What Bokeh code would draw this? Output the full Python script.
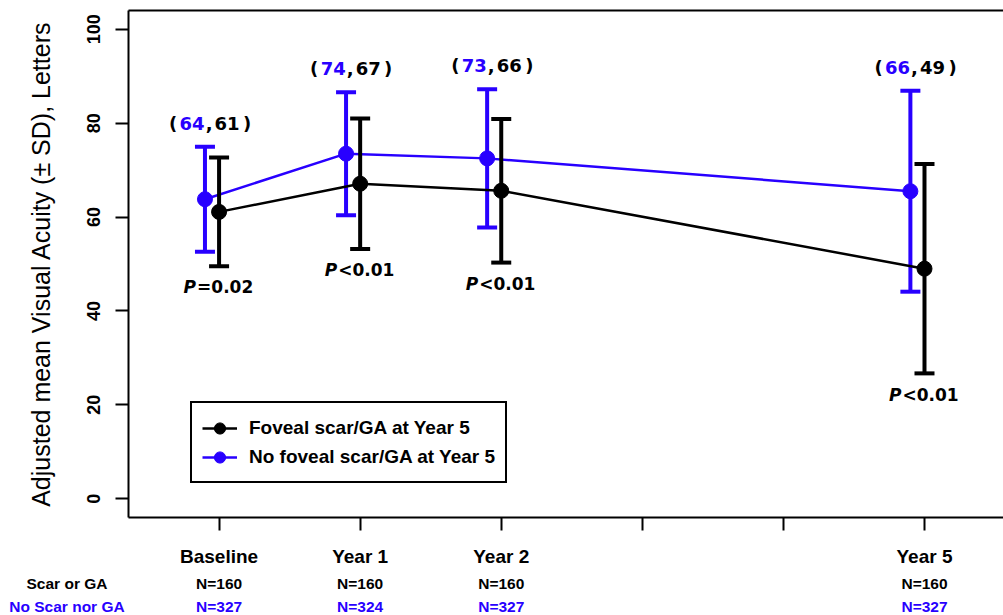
from bokeh.plotting import figure
from bokeh.layouts import column
from bokeh.models import (ColumnDataSource, FixedTicker, LinearAxis,
                          Legend, LegendItem, Range1d)
from bokeh.core.properties import value
from bokeh.embed import file_html
from bokeh.resources import INLINE

# ---------------- data ----------------
years = [0, 1, 2, 5]
tick_years = [0, 1, 2, 3, 4, 5]
tick_labels = ["Baseline", "Year 1", "Year 2", "", "", "Year 5"]
y_ticks = [0, 20, 40, 60, 80, 100]

scar_mean = [61.1, 67.1, 65.6, 49.0]
scar_sd = [11.6, 13.9, 15.3, 22.3]
noscar_mean = [63.8, 73.5, 72.5, 65.5]
noscar_sd = [11.2, 13.1, 14.7, 21.4]

noscar_label = ["64", "74", "73", "66"]
scar_label = ["61", "67", "66", "49"]
p_rest = ["=0.02", "<0.01", "<0.01", "<0.01"]

scar_n = ["N=160", "N=160", "N=160", "N=160"]
noscar_n = ["N=327", "N=324", "N=327", "N=327"]
row_names = ["Scar or GA", "No Scar nor GA"]
series_names = ["Foveal scar/GA at Year 5", "No foveal scar/GA at Year 5"]

BLUE = "#2800FF"
BLACK = "#000000"
ARIAL = "Liberation Sans"
WIDE = "DejaVu Sans"
DODGE = -0.1  # blue series drawn slightly left of the tick

X0, X1 = -0.642, 5.56          # data range of the plot frame
W = 1003
LEFT = 128

# ---------------- sources ----------------
bx = [y + DODGE for y in years]
blue = ColumnDataSource(dict(
    x=bx, m=noscar_mean,
    lo=[m - s for m, s in zip(noscar_mean, noscar_sd)],
    hi=[m + s for m, s in zip(noscar_mean, noscar_sd)]))
black = ColumnDataSource(dict(
    x=years, m=scar_mean,
    lo=[m - s for m, s in zip(scar_mean, scar_sd)],
    hi=[m + s for m, s in zip(scar_mean, scar_sd)]))

top_lab = ColumnDataSource(dict(
    x=years, y=[m + s + 5 for m, s in zip(noscar_mean, noscar_sd)],
    n1=noscar_label, n2=scar_label,
    lp=["("] * len(years), cm=[","] * len(years), rp=[")"] * len(years)))
p_lab = ColumnDataSource(dict(
    x=years, y=[m - s - 4.5 for m, s in zip(scar_mean, scar_sd)],
    P=["P"] * len(years), rest=p_rest))

# ---------------- main figure ----------------
p = figure(width=W, height=570, output_backend="svg", toolbar_location=None,
           x_range=Range1d(X0, X1), y_range=Range1d(-4, 104),
           min_border_left=LEFT, min_border_right=0, min_border_top=10,
           min_border_bottom=53)
p.frame_align = False
p.grid.visible = False
p.outline_line_color = None
p.background_fill_color = "white"
p.border_fill_color = "white"

# x axis
xa = p.xaxis[0]
xa.ticker = FixedTicker(ticks=tick_years)
xa.major_label_overrides = {t: l for t, l in zip(tick_years, tick_labels)}
xa.major_tick_out = 13
xa.major_tick_in = 0
xa.minor_tick_out = 0
xa.minor_tick_in = 0
xa.major_tick_line_width = 2
xa.axis_line_width = 2
xa.major_label_standoff = 15
xa.major_label_text_font = ARIAL
xa.major_label_text_font_style = "bold"
xa.major_label_text_font_size = "19px"
xa.major_label_text_color = BLACK

# y axis
ya = p.yaxis[0]
ya.ticker = FixedTicker(ticks=y_ticks)
ya.major_label_orientation = "vertical"
ya.major_tick_out = 13
ya.major_tick_in = 0
ya.minor_tick_out = 0
ya.minor_tick_in = 0
ya.major_tick_line_width = 2
ya.axis_line_width = 2
ya.major_label_standoff = 15
ya.major_label_text_font = ARIAL
ya.major_label_text_font_style = "bold"
ya.major_label_text_font_size = "18px"
ya.major_label_text_color = BLACK
ya.axis_label = "Adjusted mean Visual Acuity (\u00b1 SD), Letters"
ya.axis_label_text_font = ARIAL
ya.axis_label_text_font_style = "normal"
ya.axis_label_text_font_size = "25px"
ya.axis_label_text_color = BLACK
ya.axis_label_standoff = 30

# top border line
top = LinearAxis(ticker=FixedTicker(ticks=[]), axis_line_width=2,
                 major_tick_out=0, major_tick_in=0, minor_tick_out=0,
                 minor_tick_in=0, major_label_standoff=0,
                 major_label_text_font_size="0px")
p.add_layout(top, "above")

# ---------------- series ----------------
def series(src, color):
    ln = p.line("x", "m", source=src, line_color=color, line_width=2.5)
    p.segment(x0="x", y0="lo", x1="x", y1="hi", source=src,
              line_color=color, line_width=4)
    p.scatter("x", "hi", source=src, marker="dash", size=20,
              line_color=color, line_width=4)
    p.scatter("x", "lo", source=src, marker="dash", size=20,
              line_color=color, line_width=4)
    pt = p.scatter("x", "m", source=src, marker="circle", size=15,
                   fill_color=color, line_color=color)
    return ln, pt

bl, bp = series(blue, BLUE)
kl, kp = series(black, BLACK)

legend = Legend(items=[LegendItem(label=series_names[0], renderers=[kl, kp]),
                       LegendItem(label=series_names[1], renderers=[bl, bp])],
                location=(62, 34), border_line_color=BLACK,
                border_line_width=2, border_line_alpha=1.0,
                background_fill_color="white",
                background_fill_alpha=1.0, padding=10, spacing=0,
                label_height=29, glyph_height=28, glyph_width=35,
                label_standoff=12, label_text_font=ARIAL,
                label_text_font_style="bold", label_text_font_size="19px",
                label_text_color=BLACK, label_text_baseline="middle")
p.add_layout(legend)

# ---------------- annotations in plot ----------------
common = dict(source=top_lab, y="y", x="x", text_align="center",
              text_baseline="middle", text_font=value(WIDE),
              text_font_style="bold", text_font_size="18px")
p.text(text="lp", x_offset=-46, text_color=BLACK, **common)
p.text(text="n1", x_offset=-27, text_color=BLUE, **common)
p.text(text="cm", x_offset=-10, text_color=BLACK, **common)
p.text(text="n2", x_offset=8, text_color=BLACK, **common)
p.text(text="rp", x_offset=28, text_color=BLACK, **common)

p.text(x="x", y="y", text="P", source=p_lab, x_offset=-23,
       text_align="right", text_baseline="middle", text_font=value(WIDE),
       text_font_style="bold italic", text_font_size="17px", text_color=BLACK)
p.text(x="x", y="y", text="rest", source=p_lab, x_offset=-22,
       text_align="left", text_baseline="middle", text_font=value(WIDE),
       text_font_style="bold", text_font_size="17px", text_color=BLACK)

# ---------------- N rows under the axis (separate strip) ----------------
H2 = 45
px_per_year = (W - LEFT) / (X1 - X0)
q = figure(width=W, height=H2, output_backend="svg", toolbar_location=None,
           x_range=Range1d(X0 - LEFT / px_per_year, X1),
           y_range=Range1d(H2, 0), min_border=0, min_border_left=0,
           min_border_right=0, min_border_top=0, min_border_bottom=0,
           x_axis_location=None, y_axis_location=None)
q.frame_align = False
q.grid.visible = False
q.outline_line_color = None
q.background_fill_color = "white"
q.border_fill_color = "white"

ROW_Y = [13, 36]
ROW_X = -1.078
row_src = ColumnDataSource(dict(x=[ROW_X, ROW_X], y=ROW_Y, t=row_names,
                                c=[BLACK, BLUE]))
n_src = ColumnDataSource(dict(
    x=years + years, y=[ROW_Y[0]] * len(years) + [ROW_Y[1]] * len(years),
    t=scar_n + noscar_n, c=[BLACK] * len(years) + [BLUE] * len(years)))
for src in (row_src, n_src):
    q.text(x="x", y="y", text="t", source=src, text_color="c",
           text_align="center", text_baseline="middle",
           text_font=value(ARIAL), text_font_style="bold",
           text_font_size="15.5px")

layout = column(p, q, spacing=0)
open("out.html", "w").write(file_html(layout, INLINE))
